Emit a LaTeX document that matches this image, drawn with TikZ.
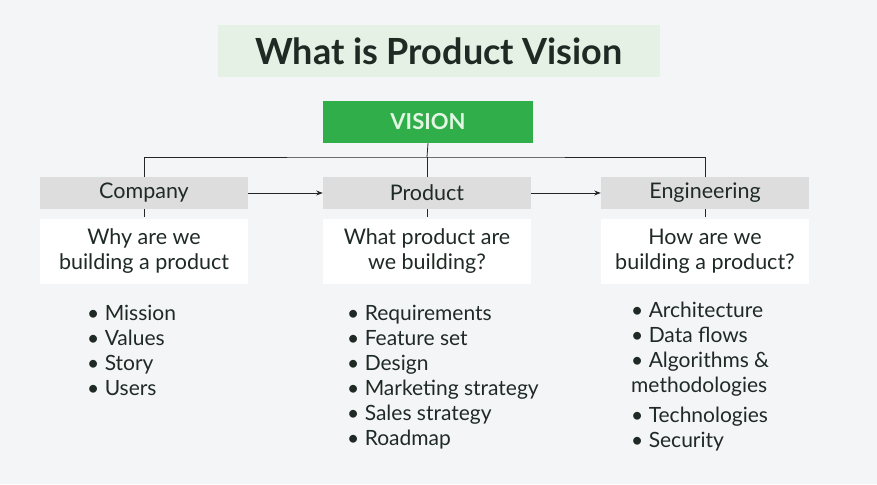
\documentclass[tikz,border=0pt]{standalone}
\usepackage{fontspec}
\setmainfont{Lato}
\usetikzlibrary{arrows.meta, positioning}
\definecolor{pagebg}{HTML}{F4F5F7}
\definecolor{titlebg}{HTML}{E5F1E4}
\definecolor{visiongreen}{HTML}{2FAE4A}
\definecolor{visiontext}{HTML}{E3F6E3}
\definecolor{headgray}{HTML}{DDDDDD}
\definecolor{inkdark}{HTML}{1F2A25}

\begin{document}
\begin{tikzpicture}[x=1pt,y=-1pt,>=Stealth,
  head/.style={fill=headgray, minimum width=208pt, minimum height=32pt, inner sep=0pt, font=\fontsize{21.5}{24}\selectfont, text=inkdark},
  desc/.style={fill=white, minimum width=208pt, minimum height=65pt, inner sep=0pt, align=center, font=\fontsize{21.5}{25}\selectfont, text=inkdark},
  list/.style={align=left, anchor=north west, inner sep=0pt, font=\fontsize{21}{25}\selectfont, text=inkdark},
  link/.style={draw=black!85, line width=0.8pt},
  arrow/.style={->, link}]
\fill[pagebg] (0,0) rectangle (877,484);
\useasboundingbox (0,0) rectangle (877,484);
\node[fill=titlebg, minimum width=442pt, minimum height=52pt, inner sep=0pt, font=\fontsize{36}{40}\bfseries\selectfont, text=inkdark] (title) at (439,51) {What is Product Vision};
\node[fill=visiongreen, minimum width=210pt, minimum height=42pt, inner sep=0pt, font=\fontsize{22}{26}\bfseries\selectfont, text=visiontext] (vision) at (428,122) {VISION};
\node[head] (company) at (144,193) {Company};
\node[head] (product) at (427,193) {Product};
\node[head] (engineering) at (705,193) {Engineering};
\node[desc] (why) at (144,251) {Why are we\\building a product};
\node[desc] (what) at (427,251) {What product are\\we building?};
\node[desc] (how) at (705,251) {How are we\\building a product?};
\coordinate (split) at (427,157);
\draw[link] (vision.south) -- (split);
\draw[link] (company.north) |- (split) -| (engineering.north);
\draw[link] (split) -- (product.north);
\draw[arrow] (company) -- (product);
\draw[arrow] (product) -- (engineering);
\draw[link] (company.south) -- ++(0,8);
\draw[link] (product.south) -- ++(0,8);
\draw[link] (engineering.south) -- ++(0,8);
\node[list] (companylist) at (87,305) {• Mission\\• Values\\• Story\\• Users};
\node[list] (productlist) at (347,305) {• Requirements\\• Feature set\\• Design\\• Marketing strategy\\• Sales strategy\\• Roadmap};
\node[list] (enginelist) at (631,302) {• Architecture\\• Data flows\\• Algorithms \&\\methodologies\\[5pt]• Technologies\\• Security};
\end{tikzpicture}
\end{document}
